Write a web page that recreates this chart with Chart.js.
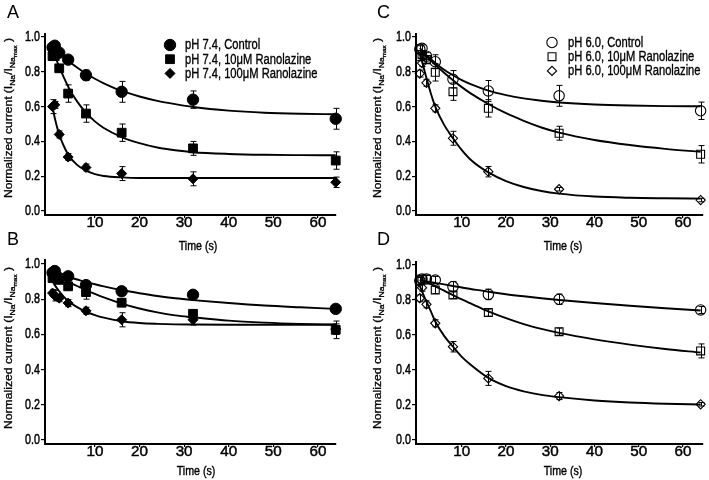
<!DOCTYPE html>
<html><head><meta charset="utf-8">
<script src="https://cdn.jsdelivr.net/npm/chart.js@4.4.0/dist/chart.umd.min.js"></script>
<style>
html,body{margin:0;padding:0;background:#fff;}
#wrap{position:relative;width:709px;height:480px;background:#fff;}
#wrap canvas{position:absolute;left:0;top:0;}
</style></head><body>
<div id="wrap">
<canvas id="cA" width="709" height="480"></canvas>
<canvas id="cB" width="709" height="480"></canvas>
<canvas id="cC" width="709" height="480"></canvas>
<canvas id="cD" width="709" height="480"></canvas>
</div>
<script>
// ---------------- DATA ----------------
const times = [0.5, 1, 2, 4, 8, 16, 32, 64];
const fitTimes = [0.5, 1, 2, 3, 4, 6, 8, 10, 12, 16, 20, 24, 28, 32, 40, 48, 56, 64];
const xTickValues = [10, 20, 30, 40, 50, 60];
const yTickValues = [0, 0.2, 0.4, 0.6, 0.8, 1.0];
const panelLetters = ["A", "B", "C", "D"];
const xAxisTitle = "Time (s)";
const legendLabelsPH74 = ["pH 7.4, Control", "pH 7.4, 10\u03bcM Ranolazine", "pH 7.4, 100\u03bcM Ranolazine"];
const legendLabelsPH60 = ["pH 6.0, Control", "pH 6.0, 10\u03bcM Ranolazine", "pH 6.0, 100\u03bcM Ranolazine"];

// Panel A (pH 7.4)
const aControl = [0.94, 0.95, 0.91, 0.87, 0.78, 0.685, 0.64, 0.53];
const aControlErr = [0.01, 0.01, 0.015, 0.015, 0.03, 0.06, 0.05, 0.06];
const aControlFit = [0.946,0.934,0.909,0.886,0.864,0.825,0.79,0.76,0.734,0.69,0.658,0.633,0.614,0.598,0.577,0.565,0.559,0.556];
const aRan10 = [0.89, 0.89, 0.82, 0.675, 0.56, 0.45, 0.36, 0.29];
const aRan10Err = [0.02, 0.02, 0.02, 0.05, 0.05, 0.05, 0.04, 0.05];
const aRan10Fit = [0.92,0.89,0.83,0.77,0.715,0.63,0.565,0.515,0.477,0.425,0.39,0.365,0.349,0.338,0.328,0.323,0.321,0.32];
const aRan100 = [0.60, 0.61, 0.44, 0.31, 0.25, 0.215, 0.185, 0.165];
const aRan100Err = [0.04, 0.02, 0.02, 0.02, 0.02, 0.04, 0.04, 0.03];
const aRan100Fit = [0.60,0.535,0.44,0.375,0.325,0.265,0.232,0.212,0.201,0.193,0.19,0.19,0.19,0.19,0.19,0.19,0.19,0.19];

// Panel B (pH 7.4)
const bControl = [0.95, 0.96, 0.92, 0.93, 0.88, 0.845, 0.825, 0.745];
const bControlErr = [0.02, 0.02, 0.02, 0.02, 0.02, 0.02, 0.02, 0.02];
const bControlFit = [0.95,0.947,0.94,0.933,0.926,0.912,0.898,0.885,0.873,0.852,0.834,0.818,0.805,0.795,0.778,0.764,0.754,0.745];
const bRan10 = [0.92, 0.93, 0.91, 0.873, 0.84, 0.78, 0.717, 0.626];
const bRan10Err = [0.02, 0.02, 0.02, 0.02, 0.04, 0.02, 0.02, 0.05];
const bRan10Fit = [0.935,0.93,0.92,0.91,0.898,0.875,0.852,0.83,0.81,0.775,0.747,0.725,0.708,0.697,0.678,0.667,0.66,0.656];
const bRan100 = [0.835, 0.82, 0.806, 0.778, 0.734, 0.683, 0.683, 0.63];
const bRan100Err = [0.02, 0.03, 0.02, 0.02, 0.02, 0.04, 0.03, 0.03];
const bRan100Fit = [0.90,0.88,0.845,0.815,0.79,0.755,0.73,0.71,0.695,0.675,0.665,0.66,0.657,0.656,0.655,0.655,0.655,0.655];

// Panel C (pH 6.0)
const cControl = [0.93, 0.935, 0.89, 0.858, 0.757, 0.69, 0.662, 0.576];
const cControlErr = [0.02, 0.02, 0.02, 0.04, 0.05, 0.06, 0.06, 0.05];
const cControlFit = [0.936,0.922,0.896,0.873,0.851,0.812,0.78,0.752,0.729,0.692,0.666,0.647,0.634,0.624,0.612,0.606,0.603,0.602];
const cRan10 = [0.886, 0.90, 0.87, 0.797, 0.686, 0.59, 0.447, 0.326];
const cRan10Err = [0.02, 0.02, 0.02, 0.05, 0.05, 0.05, 0.04, 0.05];
const cRan10Fit = [0.925,0.912,0.888,0.864,0.84,0.795,0.752,0.712,0.676,0.615,0.562,0.518,0.48,0.45,0.408,0.379,0.357,0.34];
const cRan100 = [0.79, 0.85, 0.737, 0.59, 0.418, 0.226, 0.125, 0.063];
const cRan100Err = [0.02, 0.02, 0.02, 0.02, 0.04, 0.03, 0.01, 0.01];
const cRan100Fit = [0.90,0.86,0.765,0.675,0.60,0.495,0.418,0.35,0.295,0.222,0.172,0.138,0.115,0.10,0.083,0.076,0.073,0.071];

// Panel D (pH 6.0)
const dControl = [0.91, 0.92, 0.92, 0.914, 0.876, 0.832, 0.804, 0.743];
const dControlErr = [0.02, 0.02, 0.02, 0.02, 0.03, 0.03, 0.03, 0.02];
const dControlFit = [0.912,0.91,0.906,0.902,0.898,0.889,0.88,0.871,0.863,0.847,0.833,0.821,0.81,0.80,0.783,0.767,0.753,0.74];
const dRan10 = [0.91, 0.92, 0.92, 0.857, 0.829, 0.728, 0.619, 0.509];
const dRan10Err = [0.02, 0.02, 0.02, 0.02, 0.02, 0.02, 0.02, 0.04];
const dRan10Fit = [0.915,0.91,0.90,0.89,0.878,0.853,0.828,0.803,0.78,0.735,0.696,0.662,0.635,0.612,0.575,0.545,0.52,0.50];
const dRan100 = [0.81, 0.87, 0.775, 0.667, 0.533, 0.352, 0.251, 0.204];
const dRan100Err = [0.02, 0.02, 0.02, 0.02, 0.03, 0.04, 0.02, 0.01];
const dRan100Fit = [0.88,0.85,0.79,0.735,0.677,0.595,0.533,0.475,0.43,0.355,0.308,0.278,0.258,0.245,0.226,0.214,0.207,0.203];

// ---------------- STYLE / LAYOUT ----------------
const FONT = "'Liberation Sans', Arial, sans-serif";
const W = 709, H = 480;

function scaledText(ctx, text, x, y, size, sx, align, thick) {
  ctx.save();
  ctx.translate(x, y);
  ctx.scale(sx, 1);
  ctx.font = size + 'px ' + FONT;
  ctx.textAlign = align;
  ctx.textBaseline = 'middle';
  ctx.fillStyle = '#000';
  ctx.fillText(text, 0, 0);
  if (thick) { ctx.strokeStyle = '#000'; ctx.lineWidth = thick; ctx.strokeText(text, 0, 0); }
  ctx.restore();
}

const errorBarPlugin = {
  id: 'errorBars',
  afterDatasetsDraw(chart) {
    const ctx = chart.ctx, ys = chart.scales.y;
    chart.data.datasets.forEach((ds, di) => {
      if (!ds.errs) return;
      const meta = chart.getDatasetMeta(di);
      ctx.save();
      ctx.strokeStyle = '#000'; ctx.lineWidth = 1;
      meta.data.forEach((pt, i) => {
        const v = ds.data[i].y, e = ds.errs[i];
        if (!e) return;
        const yt = ys.getPixelForValue(v + e), yb = ys.getPixelForValue(v - e);
        const x = Math.round(pt.x) + 0.5;
        ctx.beginPath();
        ctx.moveTo(x, yt); ctx.lineTo(x, yb);
        ctx.moveTo(x - 3, yt); ctx.lineTo(x + 3, yt);
        ctx.moveTo(x - 3, yb); ctx.lineTo(x + 3, yb);
        ctx.stroke();
      });
      ctx.restore();
    });
  }
};

// tick labels placed through the chart's own scales
const tickLabelPlugin = {
  id: 'tickLabels',
  afterDraw(chart) {
    const ctx = chart.ctx, xs = chart.scales.x, ys = chart.scales.y;
    xTickValues.forEach(v => scaledText(ctx, String(v), xs.getPixelForValue(v), xs.top + 8, 14.5, 1.05, 'center', 0.45));
    yTickValues.forEach(v => scaledText(ctx, v.toFixed(1), ys.right - 5, ys.getPixelForValue(v), 14.5, 0.74, 'right', 0.5));
  }
};

function drawYTitle(ctx, cx, cy, len) {
  const parts = [
    {t: 'Normalized current (I', s: 10.5, d: 0},
    {t: 'Na', s: 7.5, d: 2.5},
    {t: '/I', s: 10.5, d: 0},
    {t: 'Na', s: 7.5, d: 2.5},
    {t: 'max', s: 5.5, d: 4.8},
    {t: ' )', s: 10.5, d: 0}
  ];
  ctx.save();
  ctx.translate(cx, cy);
  ctx.rotate(-Math.PI / 2);
  let total = 0;
  parts.forEach(p => { ctx.font = p.s + 'px ' + FONT; p.w = ctx.measureText(p.t).width; total += p.w; });
  ctx.scale(len / total, 1);
  let x = -total / 2;
  ctx.textAlign = 'left'; ctx.textBaseline = 'alphabetic'; ctx.fillStyle = '#000';
  ctx.strokeStyle = '#000'; ctx.lineWidth = 0.3;
  parts.forEach(p => { ctx.font = p.s + 'px ' + FONT; ctx.fillText(p.t, x, p.d); ctx.strokeText(p.t, x, p.d); x += p.w; });
  ctx.restore();
}

const decorPlugin = {
  id: 'decor',
  afterDraw(chart, args, o) {
    const ctx = chart.ctx;
    ctx.save();
    ctx.fillStyle = '#000';
    ctx.font = '18px ' + FONT;
    ctx.textAlign = 'left'; ctx.textBaseline = 'top';
    ctx.fillText(o.letter, o.letterX, o.letterY);
    scaledText(ctx, xAxisTitle, o.xTitleX, o.xTitleY, 13, 0.82, 'center', 0.4);
    drawYTitle(ctx, o.yTitleX, o.yTitleY, o.yTitleLen);
    if (o.legend) {
      const L = o.legend;
      chart.data.datasets.filter(d => d.errs).forEach((ds, i) => {
        const y = L.y + i * L.dy;
        ctx.fillStyle = ds.backgroundColor;
        ctx.strokeStyle = '#000';
        ctx.lineWidth = ds.borderWidth;
        Chart.helpers.drawPoint(ctx, {
          pointStyle: ds.pointStyle, radius: ds.pointRadius, rotation: 0,
          borderWidth: ds.borderWidth
        }, L.markerX, y);
        scaledText(ctx, ds.label, L.textX, y + 0.5, 13.8, 0.81, 'left', 0.35);
      });
    }
    ctx.restore();
  }
};

function makePanel(id, geo, series, decor) {
  const datasets = [];
  series.forEach(s => {
    datasets.push({
      type: 'scatter', label: s.label,
      data: times.map((t, i) => ({x: t, y: s.vals[i]})),
      errs: s.errs,
      pointStyle: s.style, pointRadius: s.r, pointHoverRadius: s.r,
      backgroundColor: s.open ? 'rgba(0,0,0,0)' : '#000',
      borderColor: '#000', borderWidth: s.open ? 1.1 : 1,
      clip: false, order: 0
    });
  });
  series.forEach(s => {
    datasets.push({
      type: 'line', label: s.label + ' fit',
      data: fitTimes.map((t, i) => ({x: t, y: s.fit[i]})),
      borderColor: '#000', borderWidth: 1.9, pointRadius: 0,
      cubicInterpolationMode: 'monotone', fill: false, clip: false, order: 1
    });
  });
  return new Chart(document.getElementById(id), {
    type: 'scatter',
    data: {datasets},
    options: {
      responsive: false, animation: false, devicePixelRatio: 1,
      events: [],
      layout: {padding: {left: geo.left - 45, right: W - geo.right, top: geo.top, bottom: H - geo.bottom - 30}},
      plugins: {legend: {display: false}, tooltip: {enabled: false}, decor: decor},
      scales: {
        x: {
          type: 'linear', min: geo.xmin, max: geo.xmax,
          afterBuildTicks: sc => { sc.ticks = xTickValues.map(v => ({value: v})); },
          afterFit: sc => { sc.height = 30; },
          grid: {drawOnChartArea: false, drawTicks: true, tickLength: 3, color: '#000', lineWidth: 1.2},
          border: {display: true, color: '#000', width: 2},
          ticks: {display: false}
        },
        y: {
          type: 'linear', min: geo.ymin, max: geo.ymax,
          afterBuildTicks: sc => { sc.ticks = yTickValues.map(v => ({value: v})); },
          afterFit: sc => { sc.width = 45; },
          grid: {drawOnChartArea: false, drawTicks: true, tickLength: 4, color: '#000', lineWidth: 1.2},
          border: {display: true, color: '#000', width: 2},
          ticks: {display: false}
        }
      }
    },
    plugins: [errorBarPlugin, tickLabelPlugin, decorPlugin]
  });
}

const filledStyles = [{style: 'circle', r: 5.7}, {style: 'rect', r: 6.2}, {style: 'rectRot', r: 5}];
const openStyles = [{style: 'circle', r: 5.2}, {style: 'rect', r: 5.6}, {style: 'rectRot', r: 4.6}];

function seriesList(labels, vals, errs, fits, styles, open) {
  return labels.map((lab, i) => ({label: lab, vals: vals[i], errs: errs[i], fit: fits[i], style: styles[i].style, r: styles[i].r, open}));
}

makePanel('cA', {left: 45, right: 336, top: 34.4, bottom: 215, xmin: -1.19, xmax: 64.06, ymin: -0.023, ymax: 1.015},
  seriesList(legendLabelsPH74, [aControl, aRan10, aRan100], [aControlErr, aRan10Err, aRan100Err], [aControlFit, aRan10Fit, aRan100Fit], filledStyles, false),
  {letter: panelLetters[0], letterX: 7, letterY: 4, xTitleX: 198, xTitleY: 246, yTitleX: 12, yTitleY: 118, yTitleLen: 160,
   legend: {markerX: 170, textX: 185, y: 45, dy: 14.2}});

makePanel('cB', {left: 45, right: 336, top: 260, bottom: 444, xmin: -1.19, xmax: 64.06, ymin: -0.0227, ymax: 1.0227},
  seriesList(legendLabelsPH74, [bControl, bRan10, bRan100], [bControlErr, bRan10Err, bRan100Err], [bControlFit, bRan10Fit, bRan100Fit], filledStyles, false),
  {letter: panelLetters[1], letterX: 7, letterY: 231, xTitleX: 196, xTitleY: 471, yTitleX: 12, yTitleY: 348, yTitleLen: 162, legend: null});

makePanel('cC', {left: 416, right: 705, top: 34.4, bottom: 215, xmin: -0.36, xmax: 64.38, ymin: -0.023, ymax: 1.015},
  seriesList(legendLabelsPH60, [cControl, cRan10, cRan100], [cControlErr, cRan10Err, cRan100Err], [cControlFit, cRan10Fit, cRan100Fit], openStyles, true),
  {letter: panelLetters[2], letterX: 377, letterY: 4, xTitleX: 563, xTitleY: 246, yTitleX: 381, yTitleY: 118, yTitleLen: 160,
   legend: {markerX: 552, textX: 568, y: 42.5, dy: 14.2}});

makePanel('cD', {left: 416, right: 705, top: 262, bottom: 444, xmin: -0.36, xmax: 64.38, ymin: -0.0229, ymax: 1.017},
  seriesList(legendLabelsPH60, [dControl, dRan10, dRan100], [dControlErr, dRan10Err, dRan100Err], [dControlFit, dRan10Fit, dRan100Fit], openStyles, true),
  {letter: panelLetters[3], letterX: 377, letterY: 231, xTitleX: 563, xTitleY: 471, yTitleX: 381, yTitleY: 348, yTitleLen: 162, legend: null});
</script>
</body></html>
